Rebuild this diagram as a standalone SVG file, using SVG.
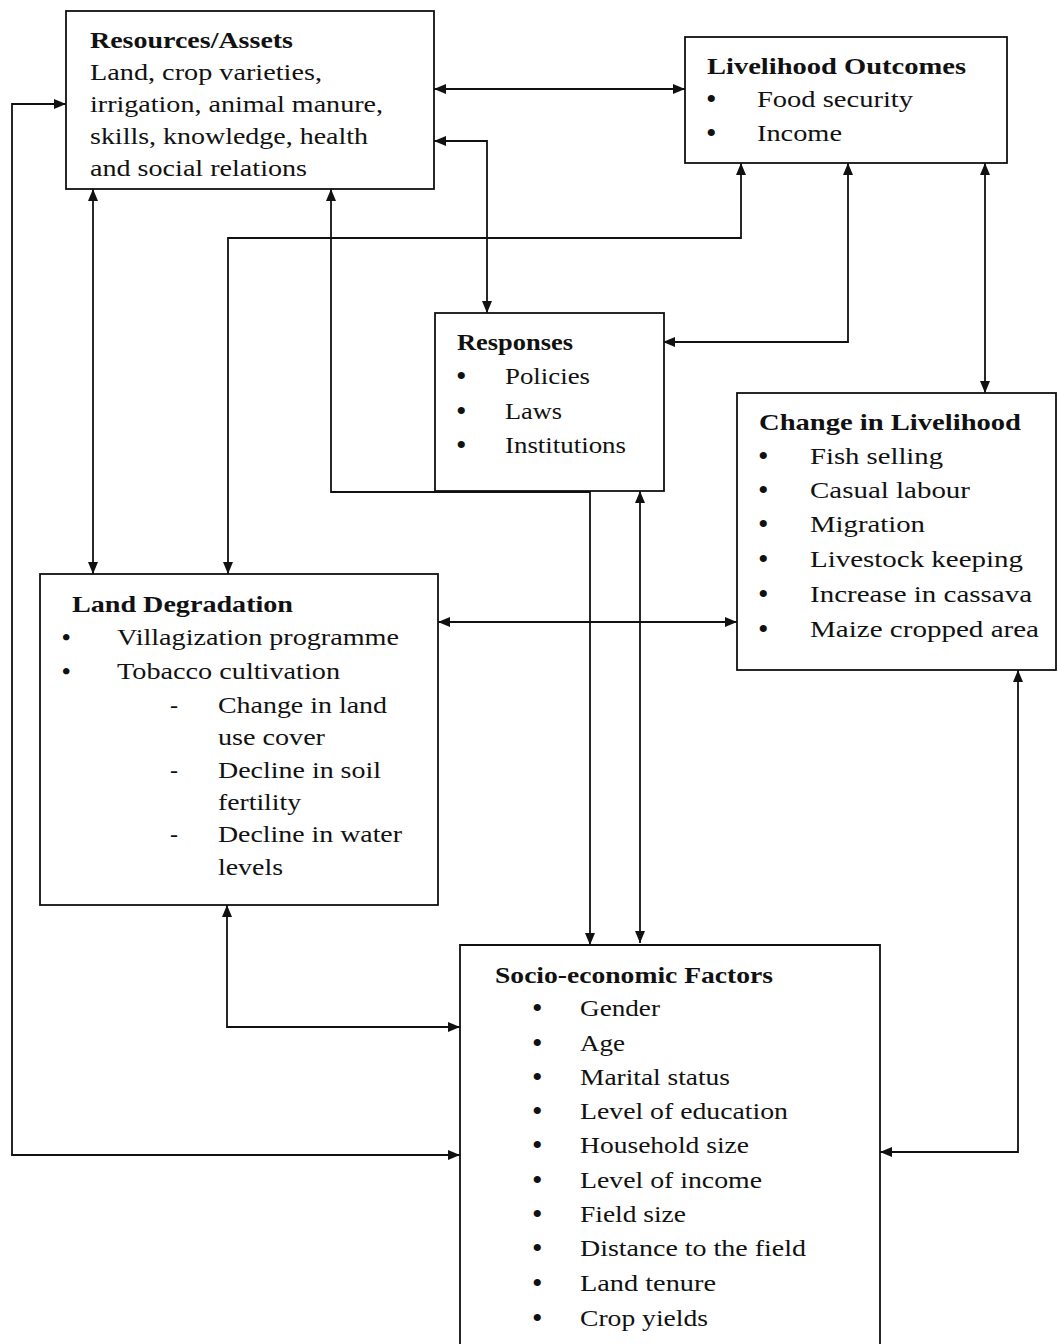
<svg xmlns="http://www.w3.org/2000/svg" width="1058" height="1344" viewBox="0 0 1058 1344">
<style>
.box{fill:#fff;stroke:#111;stroke-width:1.8}
.t{font-family:'Liberation Serif',Tinos,'Nimbus Roman',Times,serif;font-size:24px;fill:#111}
.b{font-weight:bold}
.d{font-family:'Liberation Serif',serif;font-size:30px;fill:#111}
.c{fill:none;stroke:#111;stroke-width:1.8}
</style>
<defs>
<marker id="ah" viewBox="0 0 12 10" refX="12" refY="5" markerWidth="12" markerHeight="10" markerUnits="userSpaceOnUse" orient="auto-start-reverse">
<path d="M0,0 L12,5 L0,10 z" fill="#111"/>
</marker>
</defs>
<rect width="1058" height="1344" fill="#fff"/>

<g id="connectors">
<path class="c" d="M434,89 H685" marker-start="url(#ah)" marker-end="url(#ah)"/>
<path class="c" d="M434,141 H487 V313" marker-start="url(#ah)" marker-end="url(#ah)"/>
<path class="c" d="M66,104 H12 V1155 H460" marker-start="url(#ah)" marker-end="url(#ah)"/>
<path class="c" d="M93,189 V574" marker-start="url(#ah)" marker-end="url(#ah)"/>
<path class="c" d="M331,189 V492 H590 V945" marker-start="url(#ah)" marker-end="url(#ah)"/>
<path class="c" d="M741,163 V238 H228 V574" marker-start="url(#ah)" marker-end="url(#ah)"/>
<path class="c" d="M848,163 V342 H663" marker-start="url(#ah)" marker-end="url(#ah)"/>
<path class="c" d="M985,163 V393" marker-start="url(#ah)" marker-end="url(#ah)"/>
<path class="c" d="M438,622 H737" marker-start="url(#ah)" marker-end="url(#ah)"/>
<path class="c" d="M640,491 V943" marker-start="url(#ah)" marker-end="url(#ah)"/>
<path class="c" d="M227,905 V1027 H460" marker-start="url(#ah)" marker-end="url(#ah)"/>
<path class="c" d="M1018,670 V1152 H880" marker-start="url(#ah)" marker-end="url(#ah)"/>
</g>

<g id="resources">
<rect class="box" x="66" y="11" width="368" height="178"/>
<text class="t b" x="90" y="48" textLength="203" lengthAdjust="spacingAndGlyphs">Resources/Assets</text>
<text class="t" x="90" y="80" textLength="232" lengthAdjust="spacingAndGlyphs">Land, crop varieties,</text>
<text class="t" x="90" y="112" textLength="293" lengthAdjust="spacingAndGlyphs">irrigation, animal manure,</text>
<text class="t" x="90" y="144" textLength="278" lengthAdjust="spacingAndGlyphs">skills, knowledge, health</text>
<text class="t" x="90" y="176" textLength="217" lengthAdjust="spacingAndGlyphs">and social relations</text>
</g>

<g id="livelihood-outcomes">
<rect class="box" x="685" y="37" width="322" height="126"/>
<text class="t b" x="707" y="74" textLength="259" lengthAdjust="spacingAndGlyphs">Livelihood Outcomes</text>
<text class="d" x="706" y="109">•</text>
<text class="t" x="757" y="107" textLength="156" lengthAdjust="spacingAndGlyphs">Food security</text>
<text class="d" x="706" y="143">•</text>
<text class="t" x="757" y="141" textLength="85" lengthAdjust="spacingAndGlyphs">Income</text>
</g>

<g id="responses">
<rect class="box" x="435" y="313" width="229" height="178"/>
<text class="t b" x="457" y="350" textLength="116" lengthAdjust="spacingAndGlyphs">Responses</text>
<text class="d" x="456" y="386">•</text>
<text class="t" x="505" y="384" textLength="85" lengthAdjust="spacingAndGlyphs">Policies</text>
<text class="d" x="456" y="421">•</text>
<text class="t" x="505" y="419" textLength="57" lengthAdjust="spacingAndGlyphs">Laws</text>
<text class="d" x="456" y="455">•</text>
<text class="t" x="505" y="453" textLength="121" lengthAdjust="spacingAndGlyphs">Institutions</text>
</g>

<g id="change-in-livelihood">
<rect class="box" x="737" y="393" width="319" height="277"/>
<text class="t b" x="759" y="430" textLength="262" lengthAdjust="spacingAndGlyphs">Change in Livelihood</text>
<text class="d" x="758" y="466">•</text>
<text class="t" x="810" y="464" textLength="133" lengthAdjust="spacingAndGlyphs">Fish selling</text>
<text class="d" x="758" y="500">•</text>
<text class="t" x="810" y="498" textLength="160" lengthAdjust="spacingAndGlyphs">Casual labour</text>
<text class="d" x="758" y="534">•</text>
<text class="t" x="810" y="532" textLength="115" lengthAdjust="spacingAndGlyphs">Migration</text>
<text class="d" x="758" y="569">•</text>
<text class="t" x="810" y="567" textLength="213" lengthAdjust="spacingAndGlyphs">Livestock keeping</text>
<text class="d" x="758" y="604">•</text>
<text class="t" x="810" y="602" textLength="222" lengthAdjust="spacingAndGlyphs">Increase in cassava</text>
<text class="d" x="758" y="639">•</text>
<text class="t" x="810" y="637" textLength="229" lengthAdjust="spacingAndGlyphs">Maize cropped area</text>
</g>

<g id="land-degradation">
<rect class="box" x="40" y="574" width="398" height="331"/>
<text class="t b" x="72" y="612" textLength="221" lengthAdjust="spacingAndGlyphs">Land Degradation</text>
<text class="t b" x="62" y="645">•</text>
<text class="t" x="117" y="645" textLength="282" lengthAdjust="spacingAndGlyphs">Villagization programme</text>
<text class="t b" x="62" y="679">•</text>
<text class="t" x="117" y="679" textLength="223" lengthAdjust="spacingAndGlyphs">Tobacco cultivation</text>
<text class="t" x="170" y="713">-</text>
<text class="t" x="218" y="713" textLength="169" lengthAdjust="spacingAndGlyphs">Change in land</text>
<text class="t" x="218" y="745" textLength="107" lengthAdjust="spacingAndGlyphs">use cover</text>
<text class="t" x="170" y="778">-</text>
<text class="t" x="218" y="778" textLength="163" lengthAdjust="spacingAndGlyphs">Decline in soil</text>
<text class="t" x="218" y="810" textLength="83" lengthAdjust="spacingAndGlyphs">fertility</text>
<text class="t" x="170" y="842">-</text>
<text class="t" x="218" y="842" textLength="184" lengthAdjust="spacingAndGlyphs">Decline in water</text>
<text class="t" x="218" y="875" textLength="65" lengthAdjust="spacingAndGlyphs">levels</text>
</g>

<g id="socio-economic-factors">
<path class="box" d="M460,1350 V945 H880 V1350"/>
<text class="t b" x="495" y="983" textLength="278" lengthAdjust="spacingAndGlyphs">Socio-economic Factors</text>
<text class="d" x="532" y="1018">•</text>
<text class="t" x="580" y="1016" textLength="80" lengthAdjust="spacingAndGlyphs">Gender</text>
<text class="d" x="532" y="1053">•</text>
<text class="t" x="580" y="1051" textLength="45" lengthAdjust="spacingAndGlyphs">Age</text>
<text class="d" x="532" y="1087">•</text>
<text class="t" x="580" y="1085" textLength="150" lengthAdjust="spacingAndGlyphs">Marital status</text>
<text class="d" x="532" y="1121">•</text>
<text class="t" x="580" y="1119" textLength="208" lengthAdjust="spacingAndGlyphs">Level of education</text>
<text class="d" x="532" y="1155">•</text>
<text class="t" x="580" y="1153" textLength="169" lengthAdjust="spacingAndGlyphs">Household size</text>
<text class="d" x="532" y="1190">•</text>
<text class="t" x="580" y="1188" textLength="182" lengthAdjust="spacingAndGlyphs">Level of income</text>
<text class="d" x="532" y="1224">•</text>
<text class="t" x="580" y="1222" textLength="106" lengthAdjust="spacingAndGlyphs">Field size</text>
<text class="d" x="532" y="1258">•</text>
<text class="t" x="580" y="1256" textLength="226" lengthAdjust="spacingAndGlyphs">Distance to the field</text>
<text class="d" x="532" y="1293">•</text>
<text class="t" x="580" y="1291" textLength="136" lengthAdjust="spacingAndGlyphs">Land tenure</text>
<text class="d" x="532" y="1328">•</text>
<text class="t" x="580" y="1326" textLength="128" lengthAdjust="spacingAndGlyphs">Crop yields</text>
</g>
</svg>
